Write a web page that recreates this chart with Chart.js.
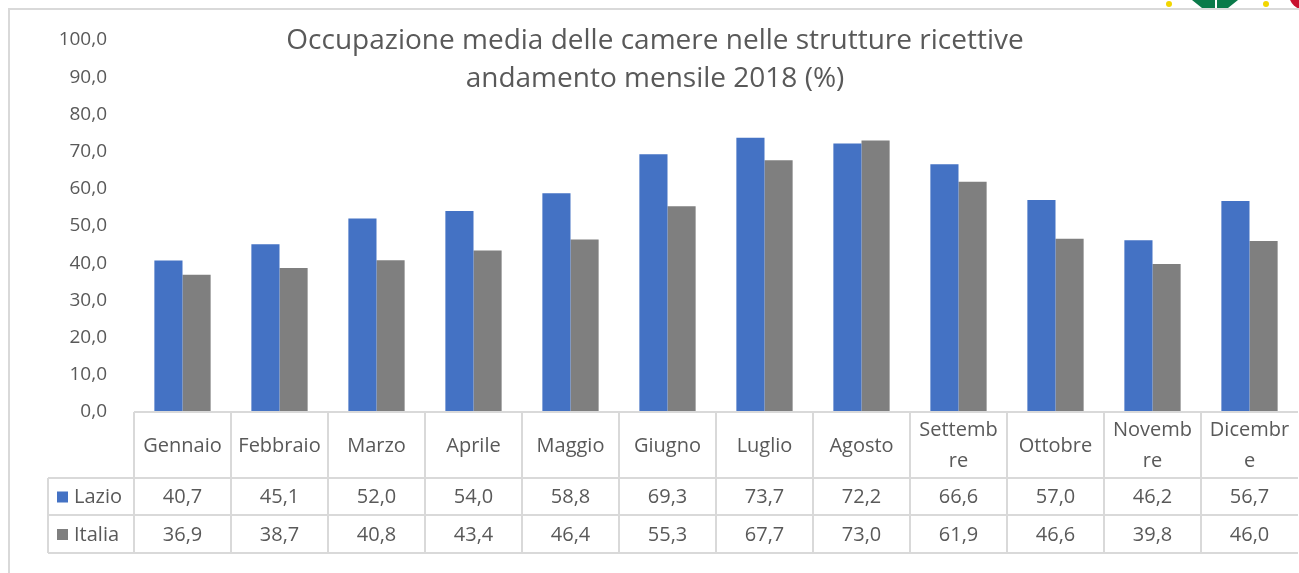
<!DOCTYPE html>
<html>
<head>
<meta charset="utf-8">
<script src="https://cdn.jsdelivr.net/npm/chart.js@4"></script>
<style>
html,body{margin:0;padding:0;background:#fff;}
#wrap{position:relative;width:1299px;height:573px;}
canvas{display:block;}
</style>
</head>
<body>
<div id="wrap"><canvas id="c" width="1299" height="573"></canvas></div>
<script>
const categories = ["Gennaio","Febbraio","Marzo","Aprile","Maggio","Giugno","Luglio","Agosto",["Settemb","re"],"Ottobre",["Novemb","re"],["Dicembr","e"]];
const lazio = [40.7,45.1,52.0,54.0,58.8,69.3,73.7,72.2,66.6,57.0,46.2,56.7];
const italia = [36.9,38.7,40.8,43.4,46.4,55.3,67.7,73.0,61.9,46.6,39.8,46.0];
const seriesNames = ["Lazio","Italia"];
const titleLines = ["Occupazione media delle camere nelle strutture ricettive","andamento mensile 2018 (%)"];

const FONT = "'Open Sans', 'Noto Sans', sans-serif";
const TXT = "#595959";
const GRID = "#d9d9d9";
const COLORS = ["#4472C4","#7F7F7F"];

const fmt = v => v.toFixed(1).replace('.', ',');

const decor = {
  id: 'decor',
  beforeDraw(chart) {
    const ctx = chart.ctx;
    ctx.save();
    ctx.fillStyle = '#fff';
    ctx.fillRect(0,0,chart.width,chart.height);
    // logo fragment top-right
    ctx.fillStyle = '#0a7a4a';
    ctx.beginPath();
    ctx.moveTo(1192,0); ctx.lineTo(1238,0); ctx.lineTo(1228,8); ctx.lineTo(1202,8); ctx.closePath(); ctx.fill();
    ctx.fillStyle = '#fff';
    ctx.fillRect(1215,0,2,8);
    ctx.fillStyle = '#f2d600';
    [[1169,4],[1266,4]].forEach(([x,y])=>{ctx.beginPath();ctx.arc(x,y,3,0,Math.PI*2);ctx.fill();});
    ctx.fillStyle = '#c8102e';
    ctx.beginPath(); ctx.arc(1305,-6,16,0,Math.PI*2); ctx.fill();
    // frame
    ctx.strokeStyle = '#d9d9d9';
    ctx.lineWidth = 2;
    ctx.beginPath();
    ctx.moveTo(9,chart.height); ctx.lineTo(9,9); ctx.lineTo(chart.width,9);
    ctx.stroke();
    ctx.restore();
  },
  afterDraw(chart) {
    const ctx = chart.ctx;
    const x = chart.scales.x;
    const area = chart.chartArea;
    ctx.save();
    // title
    ctx.fillStyle = TXT;
    ctx.font = "28px " + FONT;
    ctx.textAlign = 'center';
    ctx.textBaseline = 'middle';
    ctx.fillText(titleLines[0], 655, 41);
    ctx.fillText(titleLines[1], 655, 79);

    // data table
    const top = area.bottom;
    const hdrB = top + 66, r1B = hdrB + 37, r2B = r1B + 38;
    const legL = 48;
    const n = categories.length;
    const step = (x.getPixelForValue(1) - x.getPixelForValue(0));
    const right = x.getPixelForValue(n-1) + step/2;
    const left = x.getPixelForValue(0) - step/2;
    ctx.strokeStyle = GRID;
    ctx.lineWidth = 2;
    ctx.beginPath();
    ctx.moveTo(left, top); ctx.lineTo(right, top);
    ctx.moveTo(legL, hdrB); ctx.lineTo(right, hdrB);
    ctx.moveTo(legL, r1B); ctx.lineTo(right, r1B);
    ctx.moveTo(legL, r2B); ctx.lineTo(right, r2B);
    ctx.moveTo(legL, hdrB); ctx.lineTo(legL, r2B);
    for (let i = 0; i < n; i++) {
      const bx = x.getPixelForValue(i) - step/2;
      ctx.moveTo(bx, top); ctx.lineTo(bx, r2B);
    }
    ctx.stroke();

    ctx.fillStyle = TXT;
    ctx.font = "20px " + FONT;
    ctx.textAlign = 'center';
    for (let i = 0; i < n; i++) {
      const cx = x.getPixelForValue(i);
      const lab = categories[i];
      if (Array.isArray(lab)) {
        ctx.fillText(lab[0], cx, top + 18);
        ctx.fillText(lab[1], cx, top + 49);
      } else {
        ctx.fillText(lab, cx, top + 34);
      }
      ctx.fillText(fmt(lazio[i]), cx, (hdrB + r1B)/2 + 1);
      ctx.fillText(fmt(italia[i]), cx, (r1B + r2B)/2 + 1);
    }
    // legend keys
    const rows = [[hdrB, r1B],[r1B, r2B]];
    rows.forEach(([a,b], k) => {
      const cy = (a+b)/2;
      ctx.fillStyle = COLORS[k];
      ctx.fillRect(57, cy - 5, 11, 11);
      ctx.fillStyle = TXT;
      ctx.textAlign = 'left';
      ctx.fillText(seriesNames[k], 74, cy + 1);
    });
    ctx.restore();
  }
};

new Chart(document.getElementById('c'), {
  type: 'bar',
  data: {
    labels: categories,
    datasets: [
      {label: seriesNames[0], data: lazio, backgroundColor: COLORS[0], barPercentage: 1.0, categoryPercentage: 0.58},
      {label: seriesNames[1], data: italia, backgroundColor: COLORS[1], barPercentage: 1.0, categoryPercentage: 0.58}
    ]
  },
  options: {
    responsive: false,
    animation: false,
    layout: {padding: {top: 40, bottom: 161, left: 0, right: 1}},
    plugins: {legend: {display: false}, tooltip: {enabled: false}, title: {display: false}},
    scales: {
      x: {display: false, offset: true, grid: {display: false}},
      y: {
        min: 0, max: 100,
        border: {display: false},
        grid: {display: false, drawTicks: false},
        ticks: {
          stepSize: 10, padding: 27, color: TXT,
          font: {family: FONT, size: 19},
          callback: v => fmt(v)
        },
        afterFit: s => { s.width = 134; }
      }
    }
  },
  plugins: [decor]
});
</script>
</body>
</html>
